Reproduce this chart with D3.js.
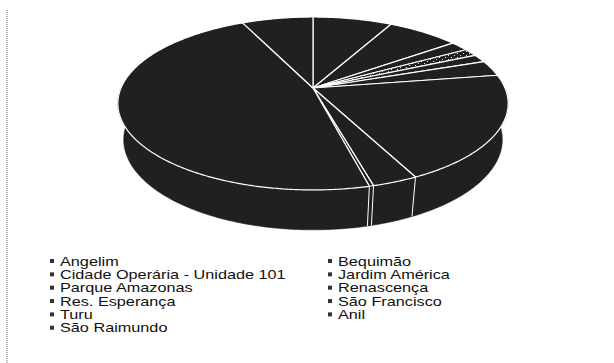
<!DOCTYPE html>
<html>
<head>
<meta charset="utf-8">
<script src="https://cdn.jsdelivr.net/npm/d3@7"></script>
<style>
  html, body { margin: 0; padding: 0; background: #fff; }
  svg { display: block; }
</style>
</head>
<body>
<svg id="chart" width="614" height="363"></svg>
<script>
// Share of records by neighbourhood (percent)
const categories = [
  "Angelim", "Bequimão", "Cidade Operária - Unidade 101", "Jardim América",
  "Parque Amazonas", "Renascença", "Res. Esperança", "São Francisco",
  "Turu", "Anil", "São Raimundo"
];
const values = [7.8, 7.1, 1.8, 1.4, 1.5, 2.9, 20.1, 3.2, 0.3, 46.9, 7.0];

const svg = d3.select("#chart");
const sliceFill = "#221f20";

// Perspective view of a tilted disc: theta is the angle on the disc
// (pi/2 = far edge), z = 0 on the top face and 1 on the bottom face.
const view = { cx: 313, cy: 88, a: 192, b: 83.7, k: 0.179, depth: 37, m: 0.03 };
function project(theta, z) {
  const u = Math.cos(theta), v = Math.sin(theta);
  const w = 1 + view.k * v + view.m * z;
  return [view.cx + view.a * u / w, view.cy + (-view.b * v + view.depth * z) / w];
}
// pie angle (clockwise from 12 o'clock) -> disc angle
const toTheta = a => Math.PI / 2 - a;

const arcs = d3.pie().sort(null).value(d => d)(values);

function rimPoints(a0, a1, z) {
  const n = Math.max(2, Math.ceil((a1 - a0) / 0.01));
  return d3.range(n + 1).map(i => project(toTheta(a0 + (a1 - a0) * i / n), z));
}

// pattern used for the speckled slice
const defs = svg.append("defs");
const pat = defs.append("pattern")
  .attr("id", "speckle").attr("patternUnits", "userSpaceOnUse")
  .attr("width", 6).attr("height", 4);
pat.append("rect").attr("width", 6).attr("height", 4).attr("fill", sliceFill);
pat.append("rect").attr("x", 1).attr("y", 1).attr("width", 1).attr("height", 1).attr("fill", "#fff");
pat.append("rect").attr("x", 4).attr("y", 3).attr("width", 1).attr("height", 1).attr("fill", "#ddd");

const line = d3.line();
const pie = svg.append("g");

// side wall: only the near half of the cylinder is visible
const frontLo = Math.PI / 2, frontHi = 3 * Math.PI / 2;
const sides = arcs.map(d => {
  const a0 = Math.max(d.startAngle, frontLo), a1 = Math.min(d.endAngle, frontHi);
  return a1 > a0 ? { d, a0, a1 } : null;
}).filter(Boolean);

pie.selectAll("path.side").data(sides).join("path")
  .attr("class", "side")
  .attr("d", s => line(rimPoints(s.a0, s.a1, 0).concat(rimPoints(s.a0, s.a1, 1).reverse())) + "Z")
  .attr("fill", sliceFill).attr("stroke", sliceFill).attr("stroke-width", 0.6);

// vertical edges between slices on the side wall
const edgeAngles = arcs.map(d => d.startAngle)
  .filter(a => a > frontLo + 0.2 && a < frontHi - 0.2);
pie.selectAll("line.edge").data(edgeAngles).join("line")
  .attr("class", "edge")
  .attr("x1", a => project(toTheta(a), 0)[0]).attr("y1", a => project(toTheta(a), 0)[1])
  .attr("x2", a => project(toTheta(a), 1)[0]).attr("y2", a => project(toTheta(a), 1)[1])
  .attr("stroke", "#fff").attr("stroke-width", 1);

// top face
const centre = [view.cx, view.cy];
pie.selectAll("path.top").data(arcs).join("path")
  .attr("class", "top")
  .attr("d", d => line([centre].concat(rimPoints(d.startAngle, d.endAngle, 0))) + "Z")
  .attr("fill", (d, i) => i === 3 ? "url(#speckle)" : sliceFill)
  .attr("stroke", "#fff").attr("stroke-width", 1.2).attr("stroke-linejoin", "round");

// legend, two columns filled row by row
const legend = svg.append("g")
  .style("font-family", "'Liberation Sans', Arial, sans-serif")
  .style("font-size", "12.5px")
  .attr("fill", "#111");
const colX = [50, 328], rowY0 = 265.5, rowH = 13.35;
const items = legend.selectAll("g").data(categories).join("g")
  .attr("transform", (c, i) => `translate(${colX[i % 2]},${rowY0 + Math.floor(i / 2) * rowH})`);
items.append("rect").attr("x", 0).attr("y", -6.5).attr("width", 4).attr("height", 4).attr("fill", "#333");
items.append("text").attr("transform", "translate(10,0) scale(1.3,1)").text(c => c);

// dotted frame line on the left
svg.append("line")
  .attr("x1", 7).attr("x2", 7).attr("y1", 10).attr("y2", 363)
  .attr("stroke", "#666").attr("stroke-width", 1).attr("stroke-dasharray", "1,1");
</script>
</body>
</html>
